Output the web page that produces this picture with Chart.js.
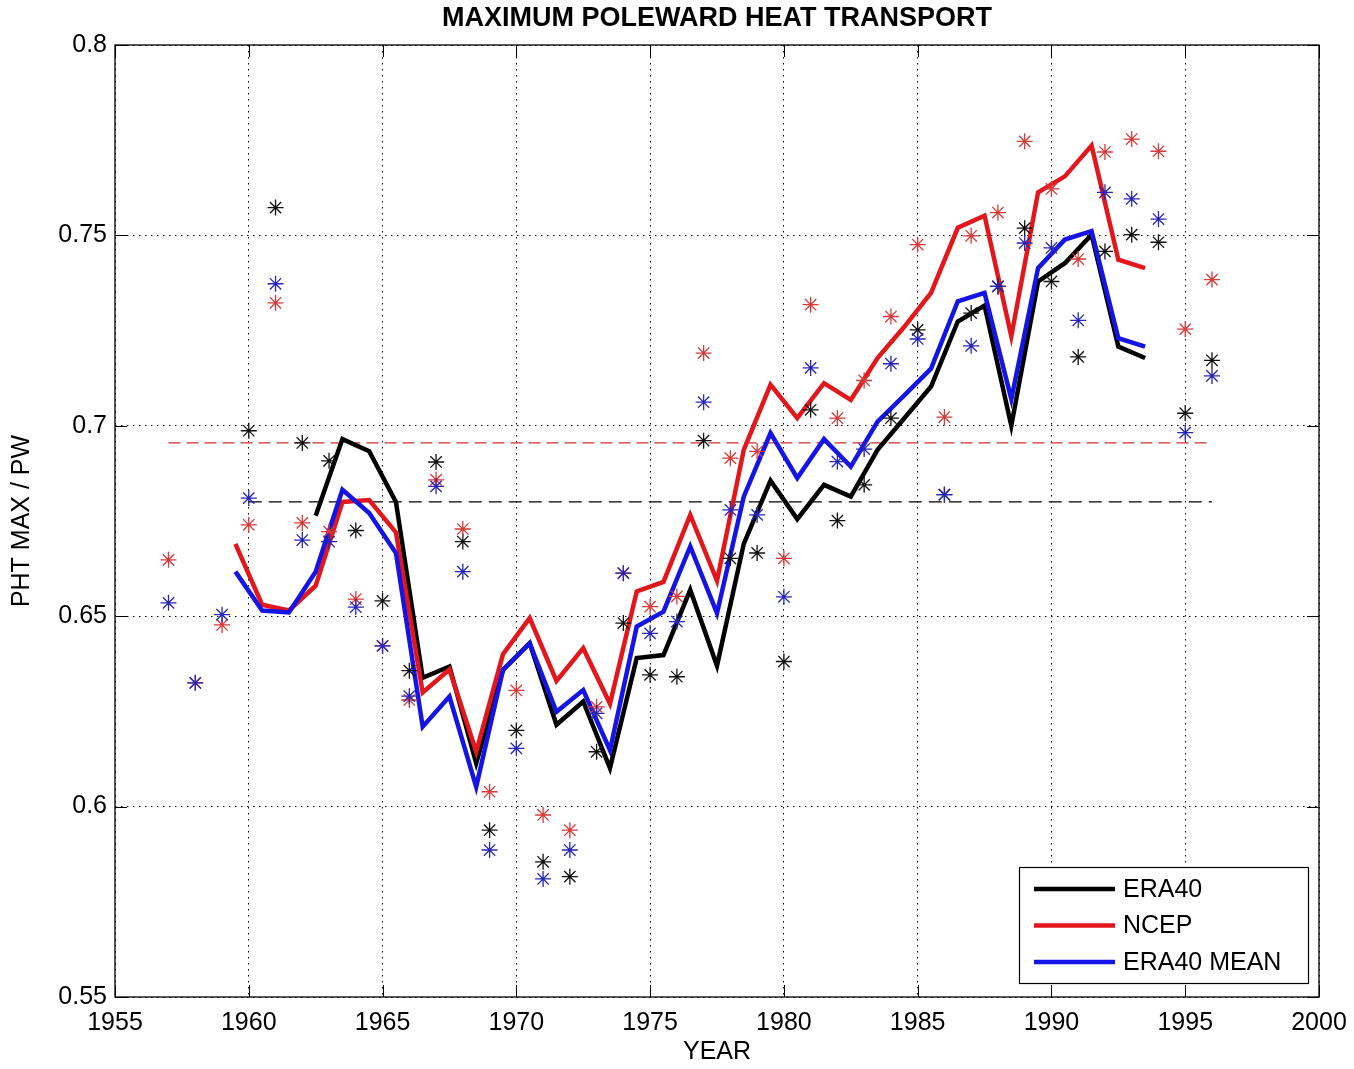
<!DOCTYPE html>
<html>
<head>
<meta charset="utf-8">
<title>Maximum poleward heat transport</title>
<script src="https://cdn.jsdelivr.net/npm/chart.js@4.4.1/dist/chart.umd.min.js"></script>
<style>
  html, body { margin: 0; padding: 0; background: #fff; }
  #wrap { width: 1354px; height: 1069px; }
</style>
</head>
<body>
<div id="wrap"><canvas id="phtChart" width="1354" height="1069"></canvas></div>
<script>
// running means, plotted at mid-year
const lineYears = [1959.5, 1960.5, 1961.5, 1962.5, 1963.5, 1964.5, 1965.5, 1966.5, 1967.5, 1968.5,
  1969.5, 1970.5, 1971.5, 1972.5, 1973.5, 1974.5, 1975.5, 1976.5, 1977.5, 1978.5,
  1979.5, 1980.5, 1981.5, 1982.5, 1983.5, 1984.5, 1985.5, 1986.5, 1987.5, 1988.5,
  1989.5, 1990.5, 1991.5, 1992.5, 1993.5];
const era40Line = [null, null, null, 0.6764, 0.6965, 0.6933, 0.680, 0.6338, 0.6368, 0.6114,
  0.6359, 0.6429, 0.6215, 0.6276, 0.6101, 0.639, 0.6398, 0.6569, 0.637, 0.669,
  0.6856, 0.6755, 0.6845, 0.6814, 0.6937, 0.702, 0.7103, 0.7274, 0.7316, 0.700,
  0.7379, 0.7427, 0.7502, 0.7208, 0.7178];
const ncepLine = [0.669, 0.653, 0.6515, 0.658, 0.680, 0.6805, 0.672, 0.630, 0.636, 0.6144,
  0.640, 0.6495, 0.633, 0.6416, 0.627, 0.6565, 0.659, 0.6766, 0.6593, 0.6937,
  0.7108, 0.702, 0.7112, 0.7068, 0.7178, 0.726, 0.7349, 0.752, 0.7552, 0.7235,
  0.7613, 0.7655, 0.7736, 0.7436, 0.7414];
const era40MeanLine = [0.6617, 0.6515, 0.651, 0.6617, 0.6832, 0.6771, 0.6666, 0.621, 0.6289, 0.6052,
  0.6359, 0.6429, 0.6249, 0.6306, 0.6148, 0.6473, 0.6512, 0.6683, 0.6508, 0.6814,
  0.6981, 0.6863, 0.6965, 0.6893, 0.7011, 0.708, 0.715, 0.7327, 0.7349, 0.707,
  0.7414, 0.7489, 0.7511, 0.723, 0.7208];

// yearly values (asterisks)
const years = [1957, 1958, 1959, 1960, 1961, 1962, 1963, 1964, 1965, 1966,
  1967, 1968, 1969, 1970, 1971, 1972, 1973, 1974, 1975, 1976,
  1977, 1978, 1979, 1980, 1981, 1982, 1983, 1984, 1985, 1986,
  1987, 1988, 1989, 1990, 1991, 1992, 1993, 1994, 1995, 1996];
const era40Yearly = [null, null, null, 0.6987, 0.7573, 0.6955, 0.6908, 0.6725, 0.654, 0.6357,
  0.6905, 0.6696, 0.5938, 0.620, 0.5855, 0.5816, 0.6144, 0.6482, 0.6346, 0.6341,
  0.6961, 0.6652, 0.6666, 0.6381, 0.7042, 0.6751, 0.6845, 0.702, 0.7252, 0.6819,
  0.7296, 0.7366, 0.7519, 0.7379, 0.7181, 0.7458, 0.7502, 0.7482, 0.7033, 0.7172];
const ncepYearly = [0.6648, 0.6325, 0.6477, 0.674, 0.7323, 0.6745, 0.6722, 0.6545, 0.6422, 0.628,
  0.6858, 0.6729, 0.6039, 0.6305, 0.5978, 0.5938, 0.6262, 0.6613, 0.6525, 0.6552,
  0.7191, 0.6915, 0.6933, 0.6652, 0.7318, 0.702, 0.7119, 0.7287, 0.7476, 0.7023,
  0.7499, 0.756, 0.7747, 0.7622, 0.7438, 0.7719, 0.7753, 0.7721, 0.7254, 0.7384];
const era40MeanYearly = [0.6535, 0.6325, 0.6504, 0.681, 0.7373, 0.670, 0.6696, 0.6524, 0.6422, 0.629,
  0.6841, 0.6617, 0.5886, 0.6153, 0.581, 0.5886, 0.6245, 0.6613, 0.6455, 0.6486,
  0.7062, 0.6779, 0.6766, 0.6551, 0.7152, 0.6906, 0.6939, 0.7163, 0.7228, 0.6819,
  0.721, 0.7366, 0.748, 0.7467, 0.7277, 0.7613, 0.7596, 0.7543, 0.6982, 0.7131];

// long-term means and the years they span
const ncepMean = 0.6955;
const ncepMeanSpan = [1957, 1996];
const era40Mean = 0.680;
const era40MeanSpan = [1960, 1996];

const xTicks = [1955, 1960, 1965, 1970, 1975, 1980, 1985, 1990, 1995, 2000];
const yTicks = [0.55, 0.6, 0.65, 0.7, 0.75, 0.8];
const seriesNames = ['ERA40', 'NCEP', 'ERA40 MEAN'];

const FONT = '"Liberation Sans", Arial, Helvetica, sans-serif';
const BLACK = '#000000', RED = '#e3161b', BLUE = '#1414e6';

function pairs(xs, ys) {
  const out = [];
  xs.forEach((x, i) => { if (ys[i] != null) out.push({x: x, y: ys[i]}); });
  return out;
}

function lineSet(label, xs, ys, color, order) {
  return {
    label: label, data: pairs(xs, ys), showLine: true,
    borderColor: color, backgroundColor: color,
    borderWidth: 4.5, pointRadius: 0, pointHoverRadius: 0, tension: 0, order: order,
    borderJoinStyle: 'miter'
  };
}

function starSet(label, ys, color, order) {
  return {
    label: label, data: pairs(years, ys), showLine: false, pointStyle: 'star',
    pointRadius: 8, pointBorderWidth: 1.3, borderColor: color, backgroundColor: color,
    pointHoverRadius: 8, order: order
  };
}

function meanSet(label, span, value, color, dash) {
  return {
    label: label, data: pairs(span, [value, value]), showLine: true,
    borderColor: color, borderWidth: 1.3, borderDash: dash,
    pointRadius: 0, pointHoverRadius: 0, order: 20
  };
}

// frame, inward ticks, title and legend box, matlab style
const frame = {
  id: 'frame',
  afterDraw(chart) {
    const {ctx, chartArea: a, scales} = chart;
    ctx.save();
    ctx.strokeStyle = '#000';
    ctx.lineWidth = 1.3;
    ctx.setLineDash([]);
    ctx.strokeRect(a.left, a.top, a.right - a.left, a.bottom - a.top);

    ctx.beginPath();
    xTicks.forEach(v => {
      const x = Math.round(scales.x.getPixelForValue(v)) + 0.5;
      ctx.moveTo(x, a.bottom); ctx.lineTo(x, a.bottom - 12);
      ctx.moveTo(x, a.top); ctx.lineTo(x, a.top + 12);
    });
    yTicks.forEach(v => {
      const y = Math.round(scales.y.getPixelForValue(v)) + 0.5;
      ctx.moveTo(a.left, y); ctx.lineTo(a.left + 12, y);
      ctx.moveTo(a.right, y); ctx.lineTo(a.right - 12, y);
    });
    ctx.lineWidth = 1;
    ctx.stroke();

    // title
    ctx.fillStyle = '#000';
    ctx.font = 'bold 27px ' + FONT;
    ctx.textAlign = 'center';
    ctx.textBaseline = 'middle';
    ctx.fillText('MAXIMUM POLEWARD HEAT TRANSPORT', (a.left + a.right) / 2, 19);

    // legend
    const bx = 1019, by = 867, bw = 289, bh = 116;
    ctx.fillStyle = '#fff';
    ctx.fillRect(bx, by, bw, bh);
    ctx.lineWidth = 1.2;
    ctx.strokeRect(bx + 0.5, by + 0.5, bw, bh);
    const colors = [BLACK, RED, BLUE];
    ctx.font = '25px ' + FONT;
    ctx.textAlign = 'left';
    seriesNames.forEach((name, i) => {
      const y = by + 22 + i * 36.5;
      ctx.strokeStyle = colors[i];
      ctx.lineWidth = 4.5;
      ctx.beginPath();
      ctx.moveTo(bx + 15, y); ctx.lineTo(bx + 96, y);
      ctx.stroke();
      ctx.fillStyle = '#000';
      ctx.fillText(name, bx + 104, y + 1);
    });
    ctx.restore();
  }
};

new Chart(document.getElementById('phtChart'), {
  type: 'scatter',
  data: {
    datasets: [
      starSet('ERA40 yearly', era40Yearly, '#111111', 2),
      starSet('NCEP yearly', ncepYearly, '#d63a3a', 1),
      starSet('ERA40 MEAN yearly', era40MeanYearly, '#2626b8', 0),
      lineSet(seriesNames[0], lineYears, era40Line, BLACK, 12),
      lineSet(seriesNames[1], lineYears, ncepLine, RED, 11),
      lineSet(seriesNames[2], lineYears, era40MeanLine, BLUE, 10),
      meanSet('NCEP mean', ncepMeanSpan, ncepMean, '#c83232', [12, 6]),
      meanSet('ERA40 mean', era40MeanSpan, era40Mean, '#000000', [13, 7])
    ]
  },
  options: {
    responsive: false,
    animation: false,
    devicePixelRatio: 1,
    layout: { padding: { top: 45, right: 35, left: 0, bottom: 0 } },
    plugins: {
      legend: { display: false },
      tooltip: { enabled: false },
      title: { display: false }
    },
    scales: {
      x: {
        type: 'linear', min: 1955, max: 2000,
        afterFit: s => { s.height = 72; s.paddingLeft = 0; s.paddingRight = 0; },
        afterBuildTicks: s => { s.ticks = xTicks.map(v => ({value: v})); },
        ticks: {
          color: '#000', padding: 11, maxRotation: 0,
          font: { family: FONT, size: 25 },
          callback: v => String(v)
        },
        grid: { color: '#000', lineWidth: 1, drawTicks: false },
        border: { display: false, dash: [1.5, 4.5] },
        title: {
          display: true, text: 'YEAR', color: '#000',
          font: { family: FONT, size: 25 }, padding: { top: 0, bottom: 2 }
        }
      },
      y: {
        type: 'linear', min: 0.55, max: 0.8,
        afterFit: s => { s.width = 115; s.paddingTop = 0; s.paddingBottom = 0; },
        afterBuildTicks: s => { s.ticks = yTicks.map(v => ({value: v})); },
        ticks: {
          color: '#000', padding: 8,
          font: { family: FONT, size: 25 },
          callback: v => String(+v.toFixed(2))
        },
        grid: { color: '#000', lineWidth: 1, drawTicks: false },
        border: { display: false, dash: [1.5, 4.5] },
        title: {
          display: true, text: 'PHT MAX / PW', color: '#000',
          font: { family: FONT, size: 25 }, padding: { top: 7, bottom: 0 }
        }
      }
    }
  },
  plugins: [frame]
});
</script>
</body>
</html>
